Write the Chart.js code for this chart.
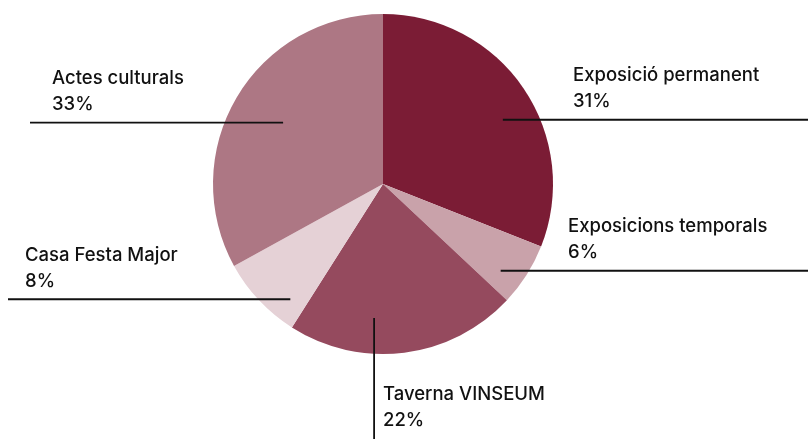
<!DOCTYPE html>
<html>
<head>
<meta charset="utf-8">
<script src="https://cdn.jsdelivr.net/npm/chart.js@4.4.1/dist/chart.umd.min.js"></script>
<style>
  html, body { margin: 0; padding: 0; background: #fff; }
  #wrap { width: 808px; height: 439px; }
</style>
</head>
<body>
<div id="wrap"><canvas id="pie"></canvas></div>
<script>
const labels = ["Exposició permanent", "Exposicions temporals", "Taverna VINSEUM", "Casa Festa Major", "Actes culturals"];
const values = [31, 6, 22, 8, 33];
const colors = ["#7b1c35", "#c9a2aa", "#954a5e", "#e5d1d6", "#ad7784"];

// leader placement per slice: angle shift from mid (deg), radius fraction, direction, text offsets
const leaders = [
  { da: 6, rf: 0.80, dir: "right", end: 808, textX: 573 },
  { da: 4, rf: 0.86, dir: "right", end: 808, textX: 568 },
  { da: 11, rf: 0.79, dir: "down", end: 439, textX: 383 },
  { da: -8, rf: 0.87, dir: "left", end: 8, textX: 25 },
  { da: 1, rf: 0.69, dir: "left", end: 30, textX: 52 }
];

const leaderPlugin = {
  id: "leaders",
  afterDatasetsDraw(chart) {
    const ctx = chart.ctx;
    const meta = chart.getDatasetMeta(0);
    ctx.save();
    ctx.strokeStyle = "#111";
    ctx.lineWidth = 1.8;
    ctx.fillStyle = "#111";
    ctx.font = "500 18.5px Inter, 'Liberation Sans', sans-serif";
    ctx.textBaseline = "middle";
    meta.data.forEach((arc, i) => {
      const L = leaders[i];
      const mid = (arc.startAngle + arc.endAngle) / 2 + L.da * Math.PI / 180;
      const r = arc.outerRadius * L.rf;
      const x0 = arc.x + Math.cos(mid) * r;
      const y0 = arc.y + Math.sin(mid) * r;
      const pct = Math.round(values[i] / values.reduce((a, b) => a + b, 0) * 100) + "%";
      ctx.beginPath();
      if (L.dir === "down") {
        ctx.moveTo(x0, y0);
        ctx.lineTo(x0, L.end);
        ctx.stroke();
        ctx.fillText(labels[i], L.textX, 394);
        ctx.fillText(pct, L.textX, 420);
      } else {
        ctx.moveTo(x0, y0);
        ctx.lineTo(L.end, y0);
        ctx.stroke();
        ctx.fillText(labels[i], L.textX, y0 - 44);
        ctx.fillText(pct, L.textX, y0 - 18);
      }
    });
    ctx.restore();
  }
};

new Chart(document.getElementById("pie"), {
  type: "pie",
  data: {
    labels: labels,
    datasets: [{
      data: values,
      backgroundColor: colors,
      borderWidth: 0
    }]
  },
  options: {
    responsive: true,
    maintainAspectRatio: false,
    animation: false,
    layout: { padding: { left: 0, right: 42, top: 14, bottom: 85 } },
    plugins: {
      legend: { display: false },
      tooltip: { enabled: false }
    }
  },
  plugins: [leaderPlugin]
});
</script>
</body>
</html>
